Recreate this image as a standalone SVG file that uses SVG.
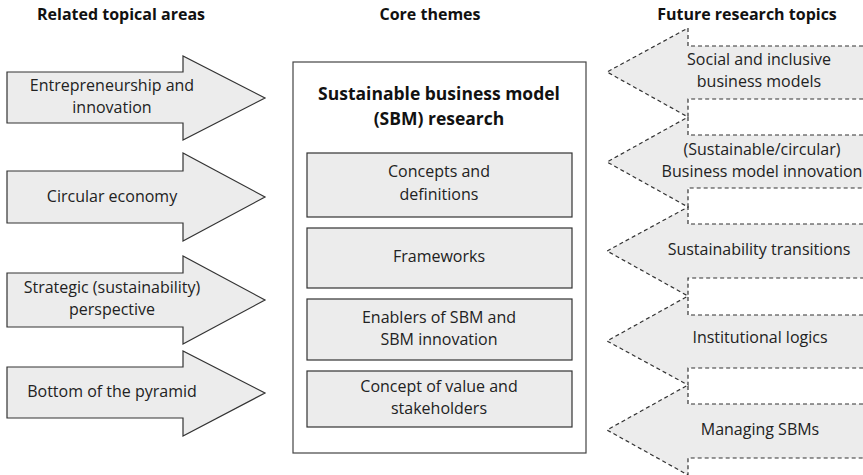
<svg xmlns="http://www.w3.org/2000/svg" width="863" height="475" viewBox="0 0 863 475">
<style>
  .hdr { font-family: "Open Sans", "Liberation Sans", sans-serif; font-size: 16px; font-weight: bold; fill: #111; text-anchor: middle; }
  .lbl { font-family: "Open Sans", "Liberation Sans", sans-serif; font-size: 16px; fill: #222; text-anchor: middle; }
  .ttl { font-family: "Open Sans", "Liberation Sans", sans-serif; font-size: 17.5px; font-weight: bold; fill: #111; text-anchor: middle; }
  .solid { fill: #ececec; stroke: #333; stroke-width: 1.2; }
  .dash { fill: #ececec; stroke: #333; stroke-width: 1.2; stroke-dasharray: 4 3; }
  .frame { fill: #ffffff; stroke: #444; stroke-width: 1.2; }
</style>
<rect width="863" height="475" fill="#ffffff"/>

<g id="headers">
  <text class="hdr" x="121" y="20">Related topical areas</text>
  <text class="hdr" x="430" y="20">Core themes</text>
  <text class="hdr" x="747" y="20">Future research topics</text>
</g>

<g id="related">
  <g id="rel-1">
    <polygon class="solid" points="7,72 183,72 183,56 265,98 183,140 183,123 7,123"/>
    <text class="lbl" x="112" y="91">Entrepreneurship and</text>
    <text class="lbl" x="112" y="113">innovation</text>
  </g>
  <g id="rel-2">
    <polygon class="solid" points="7,171 183,171 183,153 265,197 183,241 183,223 7,223"/>
    <text class="lbl" x="112" y="202">Circular economy</text>
  </g>
  <g id="rel-3">
    <polygon class="solid" points="7,273 183,273 183,256 265,300 183,344 183,327 7,327"/>
    <text class="lbl" x="112" y="293">Strategic (sustainability)</text>
    <text class="lbl" x="112" y="315">perspective</text>
  </g>
  <g id="rel-4">
    <polygon class="solid" points="7,367 183,367 183,351 265,393 183,436 183,418 7,418"/>
    <text class="lbl" x="112" y="397">Bottom of the pyramid</text>
  </g>
</g>

<g id="core">
  <rect class="frame" x="293" y="62" width="293" height="391"/>
  <text class="ttl" x="439" y="100">Sustainable business model</text>
  <text class="ttl" x="439" y="125">(SBM) research</text>
  <g id="core-1">
    <rect class="solid" x="307" y="153" width="265" height="64"/>
    <text class="lbl" x="439" y="177">Concepts and</text>
    <text class="lbl" x="439" y="200">definitions</text>
  </g>
  <g id="core-2">
    <rect class="solid" x="307" y="228" width="265" height="60"/>
    <text class="lbl" x="439" y="262">Frameworks</text>
  </g>
  <g id="core-3">
    <rect class="solid" x="307" y="299" width="265" height="61"/>
    <text class="lbl" x="439" y="323">Enablers of SBM and</text>
    <text class="lbl" x="439" y="345">SBM innovation</text>
  </g>
  <g id="core-4">
    <rect class="solid" x="307" y="371" width="265" height="56"/>
    <text class="lbl" x="439" y="392">Concept of value and</text>
    <text class="lbl" x="439" y="414">stakeholders</text>
  </g>
</g>

<g id="future">
  <g id="fut-1">
    <polygon class="dash" points="870,46 688,46 688,28 607,72 688,117 688,99 870,99"/>
    <text class="lbl" x="759" y="65">Social and inclusive</text>
    <text class="lbl" x="759" y="87">business models</text>
  </g>
  <g id="fut-2">
    <polygon class="dash" points="870,135 688,135 688,117 607,162 688,207 688,188 870,188"/>
    <text class="lbl" x="762" y="155">(Sustainable/circular)</text>
    <text class="lbl" x="762" y="177">Business model innovation</text>
  </g>
  <g id="fut-3">
    <polygon class="dash" points="870,224 688,224 688,207 607,251 688,296 688,278 870,278"/>
    <text class="lbl" x="759" y="255">Sustainability transitions</text>
  </g>
  <g id="fut-4">
    <polygon class="dash" points="870,315 688,315 688,296 607,341 688,385 688,368 870,368"/>
    <text class="lbl" x="760" y="343">Institutional logics</text>
  </g>
  <g id="fut-5">
    <polygon class="dash" points="870,404 688,404 688,385 607,430 688,475 688,458 870,458"/>
    <text class="lbl" x="760" y="435">Managing SBMs</text>
  </g>
</g>
</svg>
